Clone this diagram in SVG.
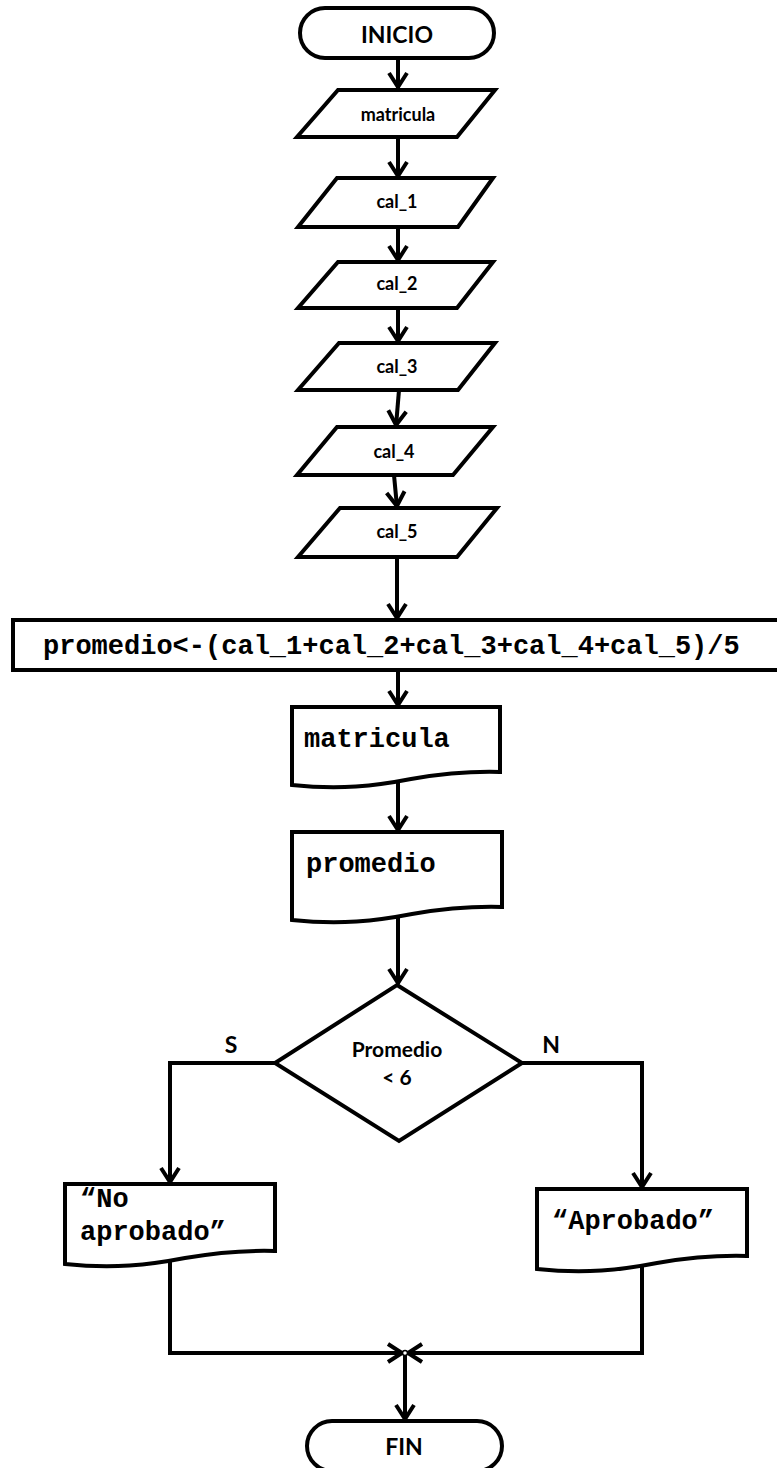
<svg xmlns="http://www.w3.org/2000/svg" width="777" height="1468" viewBox="0 0 777 1468">
  <style>
    .shape { fill: #fff; stroke: #000; stroke-width: 4; stroke-linejoin: miter; }
    .link { fill: none; stroke: #000; stroke-width: 4; }
    .sans { font-family: Lato, "Open Sans", "Liberation Sans", sans-serif; font-weight: bold; fill: #000; text-anchor: middle; }
    .mono { font-family: "Liberation Mono", "Courier New", monospace; font-weight: bold; font-size: 27px; fill: #000; }
    .term { font-size: 23px; }
    .io { font-size: 18px; }
    .cond { font-size: 21px; }
    .flag { font-size: 23px; }
  </style>
  <defs>
    <marker id="arrow" markerUnits="userSpaceOnUse" viewBox="-20 -12 24 24" refX="0" refY="0" markerWidth="24" markerHeight="24" orient="auto">
      <path d="M-15,-9 L-1,0 L-15,9" fill="none" stroke="#000" stroke-width="4"/>
    </marker>
  </defs>

  <rect width="777" height="1468" fill="#fff"/>

  <!-- connectors -->
  <g id="connectors">
    <path class="link" d="M398,58 V88" marker-end="url(#arrow)"/>
    <path class="link" d="M398,137 V177" marker-end="url(#arrow)"/>
    <path class="link" d="M398,227 V261" marker-end="url(#arrow)"/>
    <path class="link" d="M398,308 V342" marker-end="url(#arrow)"/>
    <path class="link" d="M399,390 L396,426" marker-end="url(#arrow)"/>
    <path class="link" d="M394,475 L397,507" marker-end="url(#arrow)"/>
    <path class="link" d="M397,557 V619" marker-end="url(#arrow)"/>
    <path class="link" d="M398,670 V706" marker-end="url(#arrow)"/>
    <path class="link" d="M398,779 V831" marker-end="url(#arrow)"/>
    <path class="link" d="M398,914 V984" marker-end="url(#arrow)"/>
    <path class="link" d="M275,1063 H170 V1183" marker-end="url(#arrow)"/>
    <path class="link" d="M522,1063 H642 V1188" marker-end="url(#arrow)"/>
    <path class="link" d="M170,1262 V1353 H403" marker-end="url(#arrow)"/>
    <path class="link" d="M642,1260 V1353 H407" marker-end="url(#arrow)"/>
    <path class="link" d="M405,1353 V1420" marker-end="url(#arrow)"/>
    <circle cx="405" cy="1353" r="2.5" fill="#fff" stroke="#000" stroke-width="1.5"/>
  </g>

  <g id="inicio">
    <rect class="shape" x="300" y="8" width="194" height="50" rx="25"/>
    <text class="sans term" x="397" y="43">INICIO</text>
  </g>

  <g id="in-matricula">
    <polygon class="shape" points="338,90 495,90 457,137 297,137"/>
    <text class="sans io" x="398" y="121">matricula</text>
  </g>

  <g id="in-cal1">
    <polygon class="shape" points="337,178 493,178 458,227 298,227"/>
    <text class="sans io" x="397" y="208">cal_1</text>
  </g>

  <g id="in-cal2">
    <polygon class="shape" points="338,262 493,262 457,308 298,308"/>
    <text class="sans io" x="397" y="290">cal_2</text>
  </g>

  <g id="in-cal3">
    <polygon class="shape" points="339,343 495,343 458,390 298,390"/>
    <text class="sans io" x="397" y="373">cal_3</text>
  </g>

  <g id="in-cal4">
    <polygon class="shape" points="337,427 493,427 453,475 297,475"/>
    <text class="sans io" x="394" y="458">cal_4</text>
  </g>

  <g id="in-cal5">
    <polygon class="shape" points="340,508 497,508 457,557 298,557"/>
    <text class="sans io" x="397" y="538">cal_5</text>
  </g>

  <g id="calc-promedio">
    <rect class="shape" x="13" y="620" width="770" height="50"/>
    <text class="mono" x="43" y="654" font-size="27.3">promedio&lt;-(cal_1+cal_2+cal_3+cal_4+cal_5)/5</text>
  </g>

  <g id="out-matricula">
    <path class="shape" d="M292,707 H500 V772 C465,771 440,774 411,779 C375,786 340,790 292,785 Z"/>
    <text class="mono" x="304" y="747">matricula</text>
  </g>

  <g id="out-promedio">
    <path class="shape" d="M292,832 H502 V907 C467,906 441,909 412,914 C376,921 340,925 292,920 Z"/>
    <text class="mono" x="306" y="872">promedio</text>
  </g>

  <g id="decision">
    <polygon class="shape" points="397,985 522,1063 399,1141 275,1063"/>
    <text class="sans cond" x="397" y="1057">Promedio</text>
    <text class="sans cond" x="397" y="1085">&lt; 6</text>
  </g>

  <g id="branch-labels">
    <text class="sans flag" x="231" y="1053">S</text>
    <text class="sans flag" x="551" y="1053">N</text>
  </g>

  <g id="out-no-aprobado">
    <path class="shape" d="M65,1184 H275 V1251 C240,1250 214,1253 185,1258 C149,1265 113,1269 65,1264 Z"/>
    <text class="mono" x="80" y="1207">“No</text>
    <text class="mono" x="80" y="1240">aprobado”</text>
  </g>

  <g id="out-aprobado">
    <path class="shape" d="M537,1189 H747 V1256 C712,1255 686,1258 657,1263 C621,1270 585,1274 537,1269 Z"/>
    <text class="mono" x="552" y="1229">“Aprobado”</text>
  </g>

  <g id="fin">
    <rect class="shape" x="307" y="1421" width="195" height="50" rx="25"/>
    <text class="sans term" x="404" y="1455">FIN</text>
  </g>
</svg>
